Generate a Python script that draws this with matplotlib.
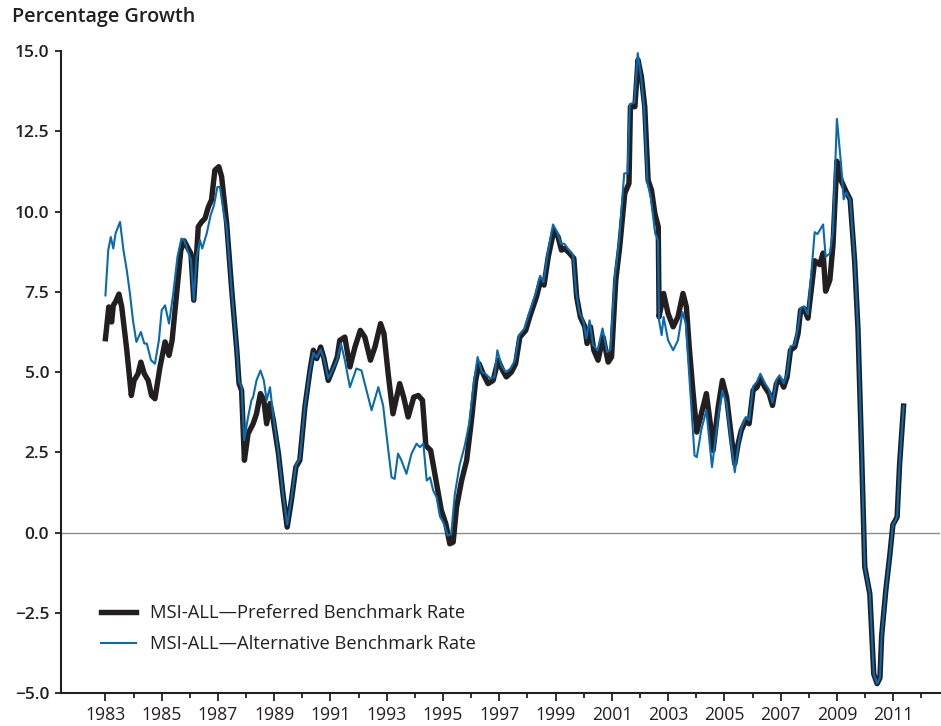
import matplotlib
matplotlib.use('Agg')
import matplotlib.pyplot as plt
from matplotlib.ticker import MultipleLocator, FixedLocator

plt.rcParams['font.family'] = ['Open Sans', 'DejaVu Sans']

# MSI-ALL, preferred benchmark rate
pref_years = [
    1983.00, 1983.12, 1983.22, 1983.28, 1983.36, 1983.48, 1983.58, 1983.76, 1983.92,
    1984.02, 1984.16, 1984.26, 1984.38, 1984.52, 1984.64, 1984.76, 1984.94,
    1985.12, 1985.26, 1985.37, 1985.52, 1985.68, 1985.80, 1985.94,
    1986.04, 1986.14, 1986.30, 1986.42, 1986.54, 1986.66, 1986.77, 1986.89,
    1987.03, 1987.13, 1987.31, 1987.49, 1987.67, 1987.75, 1987.84, 1987.94,
    1988.07, 1988.25, 1988.37, 1988.51, 1988.63, 1988.73, 1988.85, 1988.97,
    1989.15, 1989.31, 1989.46, 1989.61, 1989.77, 1989.91,
    1990.09, 1990.27, 1990.39, 1990.51, 1990.65, 1990.77, 1990.92,
    1991.09, 1991.24, 1991.33, 1991.51, 1991.69, 1991.87,
    1992.06, 1992.22, 1992.42, 1992.58, 1992.78, 1992.90,
    1993.05, 1993.22, 1993.46, 1993.60, 1993.76, 1993.96,
    1994.12, 1994.27, 1994.39, 1994.56, 1994.77, 1994.94,
    1995.10, 1995.24, 1995.36, 1995.48, 1995.66, 1995.84,
    1996.01, 1996.16, 1996.28, 1996.45, 1996.60, 1996.78, 1996.96,
    1997.12, 1997.25, 1997.43, 1997.58, 1997.73, 1997.94,
    1998.08, 1998.32, 1998.47, 1998.59, 1998.74, 1998.94,
    1999.09, 1999.21, 1999.33, 1999.51, 1999.65, 1999.75, 1999.88,
    2000.04, 2000.12, 2000.24, 2000.36, 2000.51, 2000.69, 2000.87, 2000.99,
    2001.14, 2001.28, 2001.46, 2001.61, 2001.66, 2001.82, 2001.93,
    2002.05, 2002.17, 2002.29, 2002.41, 2002.53, 2002.65, 2002.68, 2002.84,
    2003.00, 2003.18, 2003.35, 2003.53, 2003.65, 2003.75, 2003.88,
    2004.02, 2004.18, 2004.36, 2004.50, 2004.60, 2004.78, 2004.93,
    2005.08, 2005.25, 2005.37, 2005.49, 2005.60, 2005.76, 2005.88,
    2006.02, 2006.16, 2006.28, 2006.44, 2006.59, 2006.71, 2006.85, 2006.96,
    2007.11, 2007.23, 2007.35, 2007.50, 2007.62, 2007.71, 2007.83, 2007.97,
    2008.21, 2008.39, 2008.51, 2008.60, 2008.75, 2008.86,
    2009.00, 2009.15, 2009.33, 2009.47, 2009.63, 2009.75, 2009.87, 2009.99,
    2010.17, 2010.31, 2010.43, 2010.53, 2010.59, 2010.74, 2010.88, 2010.99,
    2011.14, 2011.23, 2011.37,
]
pref_vals = [
    6.04, 7.03, 6.56, 7.08, 7.19, 7.43, 7.03, 5.68, 4.27,
    4.74, 4.95, 5.31, 4.95, 4.74, 4.27, 4.17, 5.16,
    5.94, 5.52, 5.99, 7.34, 8.80, 9.09, 8.85,
    8.69, 7.24, 9.53, 9.68, 9.79, 10.15, 10.36, 11.29,
    11.40, 11.09, 9.63, 7.55, 5.68, 4.64, 4.43, 2.25,
    3.08, 3.39, 3.70, 4.33, 4.12, 3.39, 4.02, 3.49,
    2.46, 1.21, 0.17, 1.00, 2.04, 2.25,
    3.91, 5.05, 5.68, 5.42, 5.78, 5.42, 4.74,
    5.11, 5.47, 5.99, 6.09, 5.16, 5.78,
    6.30, 6.09, 5.37, 5.78, 6.51, 6.20,
    4.95, 3.70, 4.64, 4.22, 3.60, 4.22,
    4.27, 4.12, 2.71, 2.56, 1.52, 0.69,
    0.27, -0.35, -0.30, 0.79, 1.62, 2.25,
    3.49, 4.74, 5.26, 4.90, 4.64, 4.74, 5.37,
    5.05, 4.85, 5.00, 5.26, 6.09, 6.30,
    6.72, 7.34, 7.86, 7.71, 8.59, 9.42,
    9.21, 8.80, 8.85, 8.69, 8.54, 7.34, 6.72,
    6.41, 5.89, 6.41, 5.68, 5.37, 6.09, 5.31, 5.47,
    7.86, 8.90, 10.57, 10.88, 13.27, 13.27, 14.73,
    14.21, 13.27, 10.98, 10.67, 9.94, 9.53, 6.72, 7.45,
    6.82, 6.41, 6.72, 7.45, 7.03, 5.80, 4.43,
    3.13, 3.70, 4.33, 3.39, 2.56, 3.91, 4.74,
    4.22, 2.97, 2.14, 2.77, 3.18, 3.49, 3.39,
    4.43, 4.53, 4.80, 4.53, 4.33, 3.96, 4.64, 4.80,
    4.53, 4.85, 5.68, 5.78, 6.20, 6.93, 6.98, 6.68,
    8.47, 8.35, 8.71, 7.52, 7.87, 8.95,
    11.57, 10.97, 10.62, 10.38, 8.47, 6.32, 2.75, -1.07,
    -1.91, -4.41, -4.71, -4.53, -3.22, -1.79, -0.71, 0.24,
    0.48, 2.15, 3.94,
]

# MSI-ALL, alternative benchmark rate
alt_years = [
    1983.00, 1983.10, 1983.19, 1983.28, 1983.36, 1983.52, 1983.64, 1983.76, 1983.87, 1983.98,
    1984.10, 1984.26, 1984.38, 1984.47, 1984.62, 1984.76, 1984.90,
    1985.00, 1985.12, 1985.26, 1985.41, 1985.56, 1985.70, 1985.80, 1985.94,
    1986.04, 1986.14, 1986.24, 1986.36, 1986.44, 1986.60, 1986.74, 1986.86, 1986.98,
    1987.07, 1987.19, 1987.31, 1987.49, 1987.67, 1987.75, 1987.84, 1987.93,
    1988.07, 1988.19, 1988.25, 1988.37, 1988.51, 1988.63, 1988.73, 1988.85, 1988.94,
    1989.15, 1989.31, 1989.46, 1989.61, 1989.77, 1989.91,
    1990.09, 1990.27, 1990.39, 1990.51, 1990.65, 1990.77, 1990.92,
    1991.09, 1991.24, 1991.37, 1991.51, 1991.69, 1991.92,
    1992.10, 1992.28, 1992.46, 1992.70, 1992.87,
    1993.00, 1993.17, 1993.28, 1993.40, 1993.52, 1993.70, 1993.88,
    1994.06, 1994.18, 1994.30, 1994.42, 1994.54, 1994.65, 1994.77, 1994.89,
    1995.02, 1995.17, 1995.29, 1995.42, 1995.59, 1995.77, 1995.93,
    1996.10, 1996.23, 1996.38, 1996.50, 1996.68, 1996.83, 1996.93,
    1997.08, 1997.22, 1997.39, 1997.55, 1997.70, 1997.89,
    1998.05, 1998.29, 1998.45, 1998.57, 1998.72, 1998.91,
    1999.06, 1999.19, 1999.31, 1999.48, 1999.62, 1999.73, 1999.85,
    2000.00, 2000.09, 2000.21, 2000.33, 2000.49, 2000.67, 2000.83, 2000.95,
    2001.11, 2001.26, 2001.44, 2001.56, 2001.64, 2001.80, 2001.92,
    2002.04, 2002.15, 2002.27, 2002.39, 2002.54, 2002.64, 2002.68, 2002.77, 2002.84,
    2003.00, 2003.18, 2003.35, 2003.51, 2003.63, 2003.78, 2003.94,
    2004.02, 2004.18, 2004.36, 2004.56, 2004.78, 2004.93,
    2005.08, 2005.25, 2005.37, 2005.49, 2005.60, 2005.76, 2005.88,
    2006.02, 2006.16, 2006.28, 2006.44, 2006.59, 2006.71, 2006.85, 2006.96,
    2007.11, 2007.23, 2007.35, 2007.50, 2007.62, 2007.71, 2007.83, 2007.97,
    2008.21, 2008.31, 2008.51, 2008.60, 2008.75, 2008.86,
    2009.00, 2009.15, 2009.24, 2009.33, 2009.47, 2009.63, 2009.75, 2009.87, 2009.99,
    2010.17, 2010.31, 2010.43, 2010.53, 2010.59, 2010.74, 2010.88, 2010.99,
    2011.14, 2011.23, 2011.37,
]
alt_vals = [
    7.39, 8.80, 9.21, 8.85, 9.32, 9.68, 8.80, 8.17, 7.45, 6.61,
    5.94, 6.25, 5.89, 5.89, 5.37, 5.26, 5.99,
    6.93, 7.08, 6.51, 7.45, 8.59, 9.16, 9.11, 8.75,
    8.50, 7.24, 8.59, 9.11, 8.85, 9.32, 9.89, 10.20, 10.77,
    10.77, 10.05, 9.50, 7.50, 5.70, 4.70, 4.53, 2.87,
    3.60, 4.12, 4.22, 4.74, 5.05, 4.74, 4.12, 4.53, 3.81,
    2.46, 1.21, 0.25, 1.05, 2.10, 2.30,
    3.95, 5.05, 5.60, 5.45, 5.70, 5.40, 4.80,
    5.10, 5.40, 5.89, 5.37, 4.53, 5.11,
    5.05, 4.43, 3.81, 4.53, 3.96,
    2.97, 1.72, 1.67, 2.46, 2.25, 1.83, 2.46,
    2.77, 2.66, 2.77, 1.62, 1.72, 1.31, 1.10, 0.50,
    0.30, -0.10, -0.05, 1.20, 2.10, 2.70, 3.40,
    4.70, 5.47, 5.00, 4.95, 4.80, 4.85, 5.68,
    5.20, 5.00, 5.10, 5.35, 6.15, 6.35,
    6.80, 7.45, 8.00, 7.80, 8.70, 9.60,
    9.35, 9.00, 9.00, 8.80, 8.65, 7.50, 6.85,
    6.55, 6.05, 6.61, 5.85, 5.68, 6.36, 5.63, 5.70,
    8.00, 9.10, 11.19, 11.20, 13.35, 13.40, 14.94,
    14.20, 13.20, 10.90, 10.40, 9.32, 9.11, 6.61, 6.15, 6.72,
    5.99, 5.68, 5.99, 6.87, 6.51, 4.50, 2.40,
    2.35, 3.20, 3.81, 2.04, 3.60, 4.43,
    4.00, 2.70, 1.88, 2.70, 3.25, 3.60, 3.50,
    4.55, 4.70, 4.95, 4.65, 4.45, 4.05, 4.75, 4.90,
    4.65, 4.95, 5.80, 5.85, 6.40, 7.00, 7.05, 6.80,
    9.36, 9.30, 9.60, 8.59, 8.70, 9.42,
    12.89, 11.45, 10.38, 10.60, 10.38, 8.47, 6.32, 2.75, -1.07,
    -1.91, -4.41, -4.71, -4.53, -3.22, -1.79, -0.71, 0.24,
    0.48, 2.15, 3.94,
]

label_pref = 'MSI-ALL\u2014Preferred Benchmark Rate'
label_alt = 'MSI-ALL\u2014Alternative Benchmark Rate'

black = '#231f20'
blue = '#0a6aad'

fig = plt.figure(figsize=(9.41, 7.26), dpi=100)
ax = fig.add_axes([0.0648, 0.0455, 0.934, 0.884])

ax.axhline(0, color='#8c8c8c', lw=1.0, zorder=1)
ax.plot(pref_years, pref_vals, color=black, lw=3.9, solid_joinstyle='round',
        label=label_pref, zorder=2)
ax.plot(alt_years, alt_vals, color=blue, lw=1.5, label=label_alt, zorder=3)

ax.set_xlim(1981.42, 2012.66)
ax.set_ylim(-5, 15)

ax.yaxis.set_major_locator(MultipleLocator(2.5))
ax.set_yticklabels([f'{v:.1f}'.replace('-', '\u2212') for v in ax.get_yticks()])
ax.xaxis.set_major_locator(FixedLocator(list(range(1983, 2012, 2))))
ax.xaxis.set_minor_locator(FixedLocator(list(range(1984, 2013, 2))))
ax.set_xticklabels([str(y) for y in range(1983, 2012, 2)])

for s in ['top', 'right']:
    ax.spines[s].set_visible(False)
for s in ['left', 'bottom']:
    ax.spines[s].set_linewidth(1.5)
    ax.spines[s].set_color(black)

ax.tick_params(axis='y', direction='out', length=4.5, width=1.3, pad=4,
               labelsize=12.5, colors=black)
ax.tick_params(axis='x', which='major', direction='out', length=5.5, width=1.3,
               pad=4, labelsize=12.7, colors=black)
ax.tick_params(axis='x', which='minor', direction='out', length=3.5, width=1.3,
               colors=black)
for t in ax.get_yticklabels():
    t.set_fontweight('semibold')

fig.text(12 / 941, 1 - 17 / 726, 'Percentage Growth', fontsize=14.2,
         fontweight='semibold', color=black, va='center', ha='left')

ax.legend(loc='lower left', bbox_to_anchor=(0.046, 0.062), frameon=False,
          fontsize=13.2, handlelength=1.9, handletextpad=0.75,
          labelspacing=0.7, borderpad=0, borderaxespad=0, labelcolor=black)

fig.savefig('out.png', dpi=100)
